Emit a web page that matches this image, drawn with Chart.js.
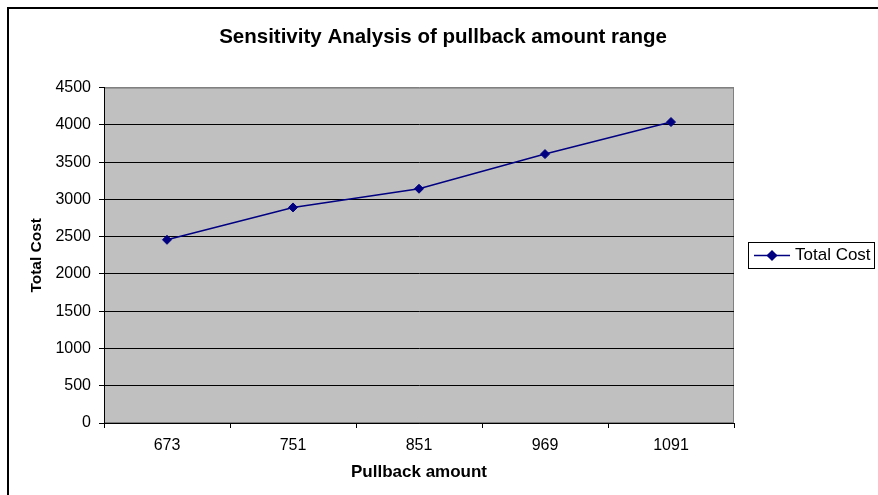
<!DOCTYPE html>
<html>
<head>
<meta charset="utf-8">
<script src="https://cdn.jsdelivr.net/npm/chart.js@4.4.0/dist/chart.umd.min.js"></script>
<style>
  html, body { margin: 0; padding: 0; background: #fff; }
  #wrap { position: relative; width: 878px; height: 495px; }
</style>
</head>
<body>
<div id="wrap"><canvas id="c" width="878" height="495"></canvas></div>
<script>
const chartTitle = 'Sensitivity Analysis of pullback amount range';
const xTitle = 'Pullback amount';
const yTitle = 'Total Cost';
const seriesName = 'Total Cost';
const categories = ['673', '751', '851', '969', '1091'];
const totalCost = [2458, 2892, 3143, 3608, 4038];
const yTicks = [0, 500, 1000, 1500, 2000, 2500, 3000, 3500, 4000, 4500];

const FONT = '"Liberation Sans", Arial, Helvetica, sans-serif';
const NAVY = '#000080';

const framePlugin = {
  id: 'frame',
  beforeDraw(chart) {
    const {ctx, chartArea: a} = chart;
    ctx.save();
    ctx.fillStyle = '#fff';
    ctx.fillRect(0, 0, chart.width, chart.height);
    // outer chart border (top and left visible)
    ctx.strokeStyle = '#000';
    ctx.lineWidth = 2;
    ctx.strokeRect(8, 8, 1000, 1000);
    // plot area
    ctx.fillStyle = '#C0C0C0';
    ctx.fillRect(a.left, a.top, a.right - a.left, a.bottom - a.top);
    ctx.strokeStyle = '#808080';
    ctx.lineWidth = 1;
    ctx.strokeRect(a.left + 0.5, a.top + 0.5, a.right - a.left - 1, a.bottom - a.top - 1);
    ctx.restore();
  },
  afterDraw(chart) {
    const {ctx} = chart;
    const ds = chart.data.datasets[0];
    const bx = 748, by = 242, bw = 126, bh = 26;
    ctx.save();
    ctx.fillStyle = '#fff';
    ctx.fillRect(bx, by, bw, bh);
    ctx.strokeStyle = '#000';
    ctx.lineWidth = 1;
    ctx.strokeRect(bx + 0.5, by + 0.5, bw, bh);
    const cy = by + bh / 2 + 0.5;
    ctx.strokeStyle = ds.borderColor;
    ctx.lineWidth = ds.borderWidth;
    ctx.beginPath();
    ctx.moveTo(754, cy);
    ctx.lineTo(790, cy);
    ctx.stroke();
    ctx.fillStyle = ds.pointBackgroundColor;
    Chart.helpers.drawPoint(ctx, {pointStyle: 'rectRot', radius: ds.pointRadius, borderWidth: 1}, 772, cy);
    ctx.fillStyle = '#000';
    ctx.font = '17px ' + FONT;
    ctx.textBaseline = 'middle';
    ctx.textAlign = 'left';
    ctx.fillText(ds.label, 795, cy);
    ctx.restore();
  }
};

new Chart(document.getElementById('c'), {
  type: 'line',
  data: {
    labels: categories,
    datasets: [{
      label: seriesName,
      data: totalCost,
      borderColor: NAVY,
      backgroundColor: NAVY,
      pointBackgroundColor: NAVY,
      pointBorderColor: NAVY,
      borderWidth: 1.5,
      pointStyle: 'rectRot',
      pointRadius: 4.5,
      pointBorderWidth: 1,
      tension: 0,
      yAxisID: 'y'
    }]
  },
  options: {
    responsive: false,
    animation: false,
    devicePixelRatio: 1,
    layout: { padding: { left: 8, right: 0, top: 0, bottom: 0 } },
    plugins: {
      legend: { display: false },
      tooltip: { enabled: false },
      title: {
        display: true,
        text: chartTitle,
        color: '#000',
        font: { family: FONT, size: 20.5, weight: 'bold' },
        padding: { top: 25, bottom: 38 }
      }
    },
    scales: {
      x: {
        type: 'category',
        offset: true,
        grid: { offset: true, drawOnChartArea: false, tickLength: 5, color: '#000', tickColor: '#000' },
        border: { display: true, color: '#000', width: 1 },
        ticks: { color: '#000', font: { family: FONT, size: 16 }, padding: 8, maxRotation: 0 },
        title: { display: true, text: xTitle, color: '#000', font: { family: FONT, size: 17, weight: 'bold' }, padding: { top: 0, bottom: 12 } },
        afterFit(scale) { scale.height = 72; }
      },
      y: {
        position: 'left',
        min: 0,
        max: 4500,
        afterBuildTicks(scale) { scale.ticks = yTicks.map(v => ({value: v})); },
        grid: {
          color: ctx => (ctx.tick && ctx.tick.value === 4500) ? '#808080' : '#000',
          tickColor: '#000',
          tickLength: 5,
          lineWidth: 1
        },
        border: { display: true, color: '#000', width: 1 },
        ticks: { color: '#000', font: { family: FONT, size: 16 }, padding: 8, callback: v => String(v) },
        title: { display: true, text: yTitle, color: '#000', font: { family: FONT, size: 15.5, weight: 'bold' }, padding: { top: 19, bottom: 0 } },
        afterFit(scale) { scale.width = 96; }
      },
      yRight: {
        position: 'right',
        display: true,
        min: 0,
        max: 4500,
        grid: { display: false, drawTicks: false },
        border: { display: false },
        ticks: { display: false },
        afterFit(scale) { scale.width = 144; }
      }
    }
  },
  plugins: [framePlugin]
});
</script>
</body>
</html>
